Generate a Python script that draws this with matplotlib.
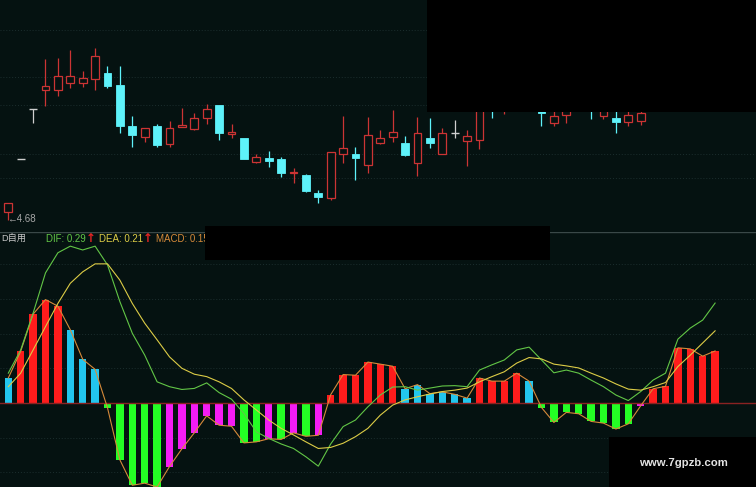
import numpy as np
import matplotlib
matplotlib.use("Agg")
import matplotlib.pyplot as plt
from matplotlib.patches import Rectangle


# candles (price), one per trading day
opens = [4.72, 4.985, 5.235, 5.33, 5.33, 5.365, 5.365, 5.385, 5.415, 5.355,
         5.15, 5.095, 5.15, 5.06, 5.145, 5.135, 5.19, 5.255, 5.11, 5.09,
         4.97, 4.99, 4.985, 4.915, 4.905, 4.815, 4.79, 5.01, 5.01, 4.955,
         5.065, 5.095, 5.065, 4.965, 5.09, 5.01, 5.115, 5.075, 5.08, 5.35,
         5.26, 5.30, 5.36, 5.32, 5.165, 5.205, 5.26, 5.30, 5.20, 5.19,
         5.17, 5.175, 5.24, 5.31, 5.36, 5.50, 5.56, 5.52]
highs = [4.765, 4.985, 5.235, 5.485, 5.49, 5.53, 5.425, 5.54, 5.45, 5.45,
         5.20, 5.14, 5.16, 5.175, 5.24, 5.215, 5.26, 5.255, 5.16, 5.09,
         5.01, 5.025, 4.995, 4.94, 4.91, 4.83, 5.02, 5.20, 5.045, 5.195,
         5.13, 5.23, 5.10, 5.195, 5.19, 5.14, 5.18, 5.13, 5.32, 5.40,
         5.35, 5.40, 5.42, 5.35, 5.24, 5.29, 5.32, 5.32, 5.28, 5.23,
         5.24, 5.25, 5.33, 5.39, 5.52, 5.60, 5.62, 5.63]
lows = [4.68, 4.985, 5.165, 5.25, 5.30, 5.34, 5.345, 5.33, 5.34, 5.115,
        5.045, 5.07, 5.045, 5.045, 5.145, 5.13, 5.16, 5.08, 5.09, 4.985,
        4.965, 4.945, 4.895, 4.865, 4.82, 4.765, 4.78, 4.965, 4.88, 4.915,
        5.06, 5.07, 5.00, 4.90, 5.04, 5.01, 5.09, 4.95, 5.035, 5.19,
        5.21, 5.27, 5.28, 5.15, 5.15, 5.165, 5.235, 5.185, 5.185, 5.115,
        5.15, 5.155, 5.23, 5.29, 5.35, 5.46, 5.48, 5.50]
closes = [4.765, 4.985, 5.235, 5.35, 5.40, 5.40, 5.39, 5.50, 5.35, 5.15,
          5.105, 5.14, 5.055, 5.14, 5.155, 5.19, 5.235, 5.115, 5.12, 4.985,
          4.995, 4.975, 4.915, 4.92, 4.825, 4.795, 5.02, 5.04, 4.99, 5.105,
          5.09, 5.12, 5.005, 5.115, 5.065, 5.115, 5.115, 5.10, 5.28, 5.24,
          5.32, 5.36, 5.30, 5.2125, 5.20, 5.26, 5.28, 5.225, 5.25, 5.17,
          5.205, 5.215, 5.31, 5.36, 5.50, 5.56, 5.52, 5.60]
price_grid = [5.63, 5.395, 5.255, 5.01, 4.89]
low_label = "\u21904.68"

# MACD panel
dif = [0.086, 0.153, 0.259, 0.375, 0.433, 0.452, 0.441, 0.452, 0.398, 0.292,
       0.201, 0.138, 0.061, 0.047, 0.039, 0.042, 0.058, 0.030, 0.011, -0.030,
       -0.083, -0.102, -0.118, -0.131, -0.155, -0.182, -0.118, -0.068, -0.049, -0.011,
       0.023, 0.046, 0.047, 0.037, 0.043, 0.049, 0.050, 0.047, 0.095, 0.110,
       0.124, 0.153, 0.161, 0.124, 0.087, 0.095, 0.086, 0.066, 0.047, 0.023,
       0.007, 0.033, 0.066, 0.086, 0.184, 0.216, 0.239, 0.288]
dea = [0.047, 0.086, 0.153, 0.220, 0.287, 0.345, 0.378, 0.401, 0.401, 0.354,
       0.287, 0.230, 0.182, 0.133, 0.100, 0.083, 0.076, 0.061, 0.042, 0.009,
       -0.020, -0.049, -0.073, -0.092, -0.112, -0.131, -0.128, -0.116, -0.097, -0.073,
       -0.035, -0.006, 0.009, 0.018, 0.026, 0.033, 0.037, 0.043, 0.061, 0.076,
       0.090, 0.115, 0.131, 0.127, 0.112, 0.107, 0.101, 0.086, 0.072, 0.055,
       0.040, 0.037, 0.047, 0.059, 0.105, 0.138, 0.173, 0.208]
macd = [0.072, 0.149, 0.256, 0.298, 0.279, 0.211, 0.126, 0.097, -0.014, -0.164,
        -0.237, -0.231, -0.242, -0.183, -0.132, -0.086, -0.037, -0.064, -0.067, -0.115,
        -0.112, -0.103, -0.105, -0.086, -0.096, -0.093, 0.024, 0.082, 0.080, 0.118,
        0.112, 0.106, 0.041, 0.053, 0.027, 0.032, 0.025, 0.014, 0.072, 0.063,
        0.063, 0.086, 0.063, -0.013, -0.056, -0.027, -0.031, -0.053, -0.058, -0.075,
        -0.060, -0.008, 0.041, 0.048, 0.159, 0.156, 0.135, 0.150]
# r/c = positive rising/falling, g/m = negative falling/rising
macd_state = "crrrrcccgggggmmmmmmggmgmgmrrrrrrccccccrrrrcggggggggmrrrrrr"
macd_grid = [0.4, 0.3, 0.2, 0.1, -0.1, -0.2]
title = "D自用"
dif_txt, dea_txt, macd_txt = "DIF: 0.29", "DEA: 0.21", "MACD: 0.15"
watermark = "www.7gpzb.com"

W, H = 756, 487
BG = "#051211"
UP, DOWN, FLAT = "#cc3434", "#5ef2fa", "#cfcfcf"
state_col = {"r": "#ff1c1c", "c": "#22c6ee", "g": "#24ff24", "m": "#f41cf4"}

fig = plt.figure(figsize=(W / 100, H / 100), dpi=100)
fig.patch.set_facecolor(BG)

# pixel -> axis mapping: bar i sits at x = 8.3 + 12.4 i
x0, dx = 8.3, 12.4
xlim = (-x0 / dx, (W - x0) / dx)

ax_k = fig.add_axes([0, 1 - 232 / H, 1, 232 / H])
ax_m = fig.add_axes([0, 0, 1, 255 / H])
for ax in (ax_k, ax_m):
    ax.set_facecolor(BG)
    ax.set_xlim(*xlim)
    ax.axis("off")

# price panel: y px -> price = 5.78 - 0.005*y
ax_k.set_ylim(4.62, 5.78)
for g in price_grid:
    ax_k.axhline(g, color="#1c2e2e", lw=0.7, ls=(0, (1, 2)))

cw = 0.64
for i, (o, hi, lo, c) in enumerate(zip(opens, highs, lows, closes)):
    top, bot = max(o, c), min(o, c)
    if c > o:
        col = UP
        ax_k.add_patch(Rectangle((i - cw / 2, bot), cw, top - bot, facecolor=BG,
                                 edgecolor=col, lw=0.9, zorder=3))
    elif c < o:
        col = DOWN
        ax_k.add_patch(Rectangle((i - cw / 2, bot), cw, top - bot, facecolor=col,
                                 edgecolor=col, lw=0.6, zorder=3))
    else:
        col = FLAT
        ax_k.hlines(o, i - cw / 2, i + cw / 2, color=col, lw=1.0, zorder=3)
    ax_k.vlines(i, top, hi, color=col, lw=0.9, zorder=2)
    ax_k.vlines(i, lo, bot, color=col, lw=0.9, zorder=2)

fig.text(7 / W, 1 - 219 / H, low_label, color="#a8a8a8", fontsize=7,
         family=["Liberation Sans", "DejaVu Sans"], va="center", ha="left")

# MACD panel: y px -> v = (403 - y)/347
ax_m.set_ylim((403 - 487) / 347, (403 - 232) / 347)
for g in macd_grid:
    ax_m.axhline(g, color="#1c2e2e", lw=0.7, ls=(0, (1, 2)))
ax_m.axhline((403 - 232) / 347, color="#3a4848", lw=1.0)

idx = np.arange(len(macd))
ax_m.bar(idx, macd, width=0.6, color=[state_col[s] for s in macd_state],
         zorder=2, linewidth=0)
ax_m.axhline(0, color="#8a2222", lw=1.0, zorder=3)
ax_m.plot(idx, macd, color="#d68a3a", lw=0.8, zorder=4)
ax_m.plot(idx, dif, color="#62c646", lw=0.8, zorder=5)
ax_m.plot(idx, dea, color="#dccc46", lw=0.8, zorder=5)

fam = ["Liberation Sans", "Noto Sans CJK SC", "DejaVu Sans"]
ty = 1 - 238.5 / H
fig.text(1 / W, ty, title, color="#c8c8c8", fontsize=6.6, family=fam, va="center")
fig.text(46 / W, ty, dif_txt, color="#62c646", fontsize=7, family=fam, va="center")
fig.text(86 / W, ty, "\u2191", color="#e82424", fontsize=8.5, family="DejaVu Sans",
         va="center", weight="bold")
fig.text(99 / W, ty, dea_txt, color="#dccc46", fontsize=7, family=fam, va="center")
fig.text(143 / W, ty, "\u2191", color="#e82424", fontsize=8.5, family="DejaVu Sans",
         va="center", weight="bold")
fig.text(156 / W, ty, macd_txt, color="#d68a3a", fontsize=7, family=fam, va="center")

# black cover boxes (pixel x, y, w, h)
for bx, by, bw, bh in [(427, 0, 329, 112), (205, 226, 345, 34), (609, 437, 147, 50)]:
    fig.add_artist(Rectangle((bx / W, 1 - (by + bh) / H), bw / W, bh / H,
                             transform=fig.transFigure, facecolor="black",
                             edgecolor="none", zorder=10))
fig.text(683 / W, 1 - 463 / H, watermark, color="#e2e2e2", fontsize=8.2,
         weight="bold", family=fam, ha="center", va="center", zorder=11)

fig.savefig("out.png", dpi=100, facecolor=BG)
